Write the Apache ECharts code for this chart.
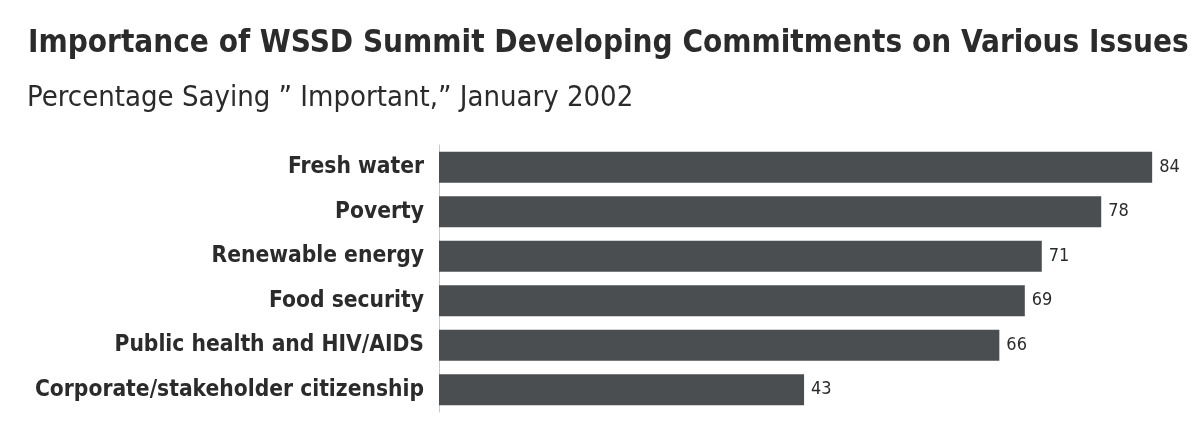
<!DOCTYPE html>
<html><head><meta charset="utf-8">
<script src="https://cdn.jsdelivr.net/npm/echarts@6/dist/echarts.min.js"></script>
<style>html,body{margin:0;padding:0;background:#fff}#c{width:1201px;height:423px}</style>
</head><body><div id="c"></div>
<script>
const titleText = 'Importance of WSSD Summit Developing Commitments on Various Issues';
const subtitleText = 'Percentage Saying \u201D Important,\u201D January 2002';
const categories = ['Fresh water','Poverty','Renewable energy','Food security','Public health and HIV/AIDS','Corporate/stakeholder citizenship'];
const values = [84, 78, 71, 69, 66, 43];

const FONT = '"DejaVu Sans Condensed","Open Sans",sans-serif';
const chart = echarts.init(document.getElementById('c'));
chart.setOption({
  backgroundColor: '#ffffff',
  animation: false,
  title: [
    {text: titleText, left: 23, top: 23, textStyle: {fontFamily: FONT, fontSize: 31.2, fontWeight: 'bold', color: '#2b2b2b'}},
    {text: subtitleText, left: 22, top: 79, textStyle: {fontFamily: FONT, fontSize: 29, fontWeight: 'normal', color: '#2b2b2b'}}
  ],
  grid: {left: 439, top: 145, width: 88 * 8.49, height: 267, containLabel: false},
  xAxis: {type: 'value', min: 0, max: 88, show: false},
  yAxis: {
    type: 'category', data: categories, inverse: true,
    axisLine: {show: true, lineStyle: {color: '#c8c8c8', width: 1}},
    axisTick: {show: false},
    axisLabel: {fontFamily: FONT, fontSize: 22.6, fontWeight: 'bold', color: '#2b2b2b', margin: 15}
  },
  series: [{
    type: 'bar', data: values, barCategoryGap: '30%',
    itemStyle: {color: '#4b4e51'},
    label: {show: true, position: 'right', distance: 7, fontFamily: FONT, fontSize: 18, color: '#2b2b2b'}
  }]
});
</script></body></html>
